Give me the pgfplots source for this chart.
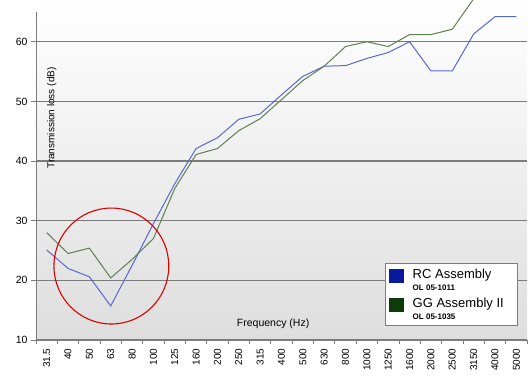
\documentclass[border=0pt]{standalone}
\usepackage{fontspec}
\setmainfont{Liberation Sans}
\usepackage{pgfplots}
\pgfplotsset{compat=1.18}
\usetikzlibrary{calc}
\definecolor{rcline}{HTML}{5868CC}
\definecolor{ggline}{HTML}{5E8052}
\definecolor{rcdark}{HTML}{0A1A9A}
\definecolor{ggdark}{HTML}{0F3A0A}
\definecolor{gridc}{HTML}{7C7C7C}
\begin{document}
\begin{tikzpicture}[x=1pt,y=1pt]
\begin{axis}[
  scale only axis,
  width=491pt, height=340pt,
  xmin=-0.5, xmax=22.5, ymin=10, ymax=67,
  axis line style={draw=none},
  axis background/.style={top color=white, bottom color=black!13},
  xtick pos=bottom, ytick pos=left,
  xtick={0,...,22},
  xticklabels={31.5,40,50,63,80,100,125,160,200,250,315,400,500,630,800,1000,1250,1600,2000,2500,3150,4000,5000},
  x tick style={draw=none},
  minor xtick={-0.5,0.5,...,22.5},
  minor x tick style={draw=gridc, line width=0.8pt},
  minor tick length=4pt,
  tick align=outside,
  xticklabel style={rotate=90, anchor=east, font=\fontsize{10}{12}\selectfont},
  ytick={10,20,30,40,50,60},
  y tick style={draw=gridc, line width=0.8pt},
  major tick length=5pt,
  yticklabel style={font=\fontsize{10.5}{12}\selectfont},
  /pgf/number format/assume math mode=true,
  ymajorgrids,
  grid style={gridc, line width=1.1pt},
  xlabel={Frequency (Hz)},
  xlabel style={at={(rel axis cs:0.483,0.047)}, anchor=center, font=\fontsize{10.5}{12}\selectfont},
  ylabel={Transmission loss (dB)},
  ylabel style={at={(rel axis cs:0.032,0.653)}, anchor=center, rotate=0, font=\fontsize{10}{12}\selectfont},
  legend style={at={(rel axis cs:0.982,0.041)}, anchor=south east, draw=gridc, fill=white,
    line width=0.8pt, inner xsep=4pt, inner ysep=3pt,
    font=\fontsize{13}{14}\selectfont, cells={anchor=west, align=left}, row sep=2pt,
    /tikz/every odd column/.style={column sep=7pt}},
]
\addlegendimage{legend image code/.code={\fill[rcdark] (0pt,-2pt) rectangle (14pt,11pt);}}
\addlegendentry{RC Assembly\\[-2pt]{\fontsize{8}{9}\selectfont\bfseries OL 05-1011}}
\addlegendimage{legend image code/.code={\fill[ggdark] (0pt,-2pt) rectangle (14pt,11pt);}}
\addlegendentry{GG Assembly II\hspace*{8pt}\\[-2pt]{\fontsize{8}{9}\selectfont\bfseries OL 05-1035}}
\addplot[rcline, line width=1pt, forget plot] coordinates {
(0,25.1) (1,22.0) (2,20.6) (3,15.7) (4,22.5) (5,29.5) (6,36.2) (7,42.1) (8,43.9) (9,47.0) (10,47.9) (11,51.1) (12,54.2) (13,55.9) (14,56.0) (15,57.2) (16,58.2) (17,60.0) (18,55.1) (19,55.1) (20,61.3) (21,64.2) (22,64.2)};
\addplot[ggline, line width=1pt, forget plot] coordinates {
(0,28.0) (1,24.5) (2,25.4) (3,20.4) (4,23.5) (5,27.0) (6,35.4) (7,41.1) (8,42.1) (9,45.1) (10,47.1) (11,50.3) (12,53.5) (13,55.9) (14,59.2) (15,60.0) (16,59.2) (17,61.2) (18,61.2) (19,62.1) (20,67.2) (21,70) (22,72)};
\draw[gridc, line width=0.8pt] (axis cs:-0.5,65) -- (axis cs:-0.5,10) -- (axis cs:22.5,10);
\draw[red!85!black, line width=1.1pt] (axis cs:3.03,22.4) ellipse [x radius=2.69, y radius=9.72];
\end{axis}
\path ($(current axis.south west)+(-36pt,-36pt)$) rectangle ($(current axis.north east)+(4pt,0pt)$);
\end{tikzpicture}
\end{document}
